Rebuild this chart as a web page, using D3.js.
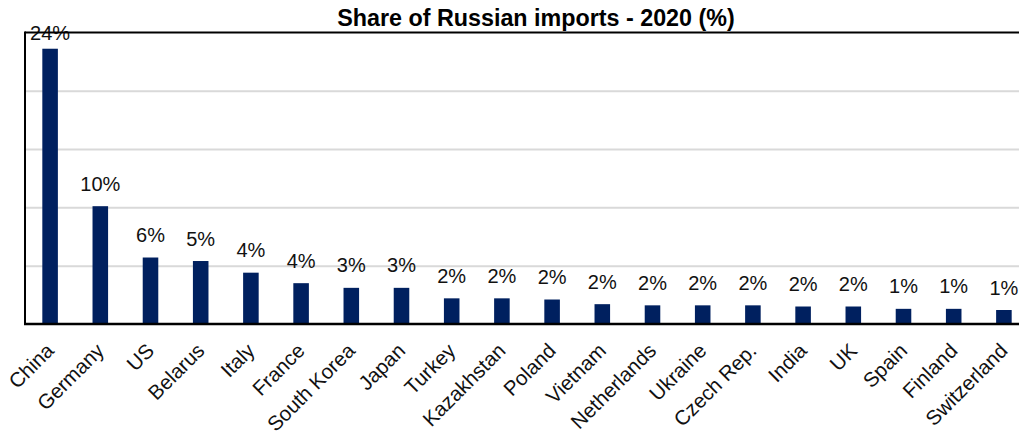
<!DOCTYPE html>
<html>
<head>
<meta charset="utf-8">
<script src="https://cdn.jsdelivr.net/npm/d3@7"></script>
<style>
  body { margin: 0; background: #fff; }
  svg { display: block; font-family: "Liberation Sans", Arial, sans-serif; }
</style>
</head>
<body>
<div id="chart"></div>
<script>
// data
const countries = ["China", "Germany", "US", "Belarus", "Italy", "France", "South Korea", "Japan",
  "Turkey", "Kazakhstan", "Poland", "Vietnam", "Netherlands", "Ukraine", "Czech Rep.", "India",
  "UK", "Spain", "Finland", "Switzerland"];
const shares = [23.6, 10.1, 5.7, 5.4, 4.4, 3.5, 3.1, 3.1, 2.2, 2.2, 2.1, 1.7, 1.6, 1.6, 1.6, 1.5,
  1.5, 1.3, 1.3, 1.2];
const gridTicks = [5, 10, 15, 20];
const title_text = "Share of Russian imports - 2020 (%)";

const width = 1019, height = 432;
const plot_left = 25, plot_right = 1029, plot_top = 32.4, plot_bottom = 324;

const svg = d3.select("#chart").append("svg")
  .attr("width", width)
  .attr("height", height);

const x = d3.scaleBand()
  .domain(countries)
  .range([plot_left, plot_right])
  .paddingInner(0.69)
  .paddingOuter(0.345);

const y = d3.scaleLinear()
  .domain([0, 25])
  .range([plot_bottom, plot_top]);

// gridlines
const grid = svg.append("g")
  .attr("transform", `translate(${plot_left},0)`)
  .call(d3.axisLeft(y).tickValues(gridTicks).tickSize(-(width - plot_left)).tickFormat(""));
grid.select(".domain").remove();
grid.selectAll("line").attr("stroke", "#d9d9d9").attr("stroke-width", 2);

// bars
svg.append("g").selectAll("rect")
  .data(shares)
  .join("rect")
  .attr("x", (d, i) => x(countries[i]))
  .attr("y", d => y(d))
  .attr("width", x.bandwidth())
  .attr("height", d => y(0) - y(d))
  .attr("fill", "#00205f");

// value labels
svg.append("g").selectAll("text")
  .data(shares)
  .join("text")
  .attr("x", (d, i) => x(countries[i]) + x.bandwidth() / 2)
  .attr("y", d => Math.max(y(d) - 15.5, 40))
  .attr("text-anchor", "middle")
  .attr("font-size", 20)
  .attr("fill", "#111")
  .text(d => Math.round(d) + "%");

// frame: top border, left axis, bottom axis
svg.append("line").attr("x1", plot_left).attr("x2", width).attr("y1", y(25)).attr("y2", y(25))
  .attr("stroke", "#000").attr("stroke-width", 2);
svg.append("line").attr("x1", plot_left).attr("x2", plot_left).attr("y1", y(25) - 1).attr("y2", plot_bottom + 1)
  .attr("stroke", "#000").attr("stroke-width", 2);
svg.append("line").attr("x1", plot_left - 1).attr("x2", width).attr("y1", plot_bottom).attr("y2", plot_bottom)
  .attr("stroke", "#000").attr("stroke-width", 2.5);

// category labels
const gX = svg.append("g")
  .attr("transform", `translate(0,${plot_bottom})`)
  .call(d3.axisBottom(x).tickSize(0));
gX.select(".domain").remove();
gX.selectAll("text")
  .attr("x", 0).attr("y", 0).attr("dy", null)
  .attr("text-anchor", "end")
  .attr("transform", "translate(5,28) rotate(-45)")
  .attr("font-size", 20.5)
  .attr("font-family", "'Liberation Sans', Arial, sans-serif")
  .attr("fill", "#111");

// title
svg.append("text")
  .attr("x", 536)
  .attr("y", 26)
  .attr("text-anchor", "middle")
  .attr("font-size", 23.3)
  .attr("font-weight", "bold")
  .attr("fill", "#000")
  .text(title_text);
</script>
</body>
</html>
